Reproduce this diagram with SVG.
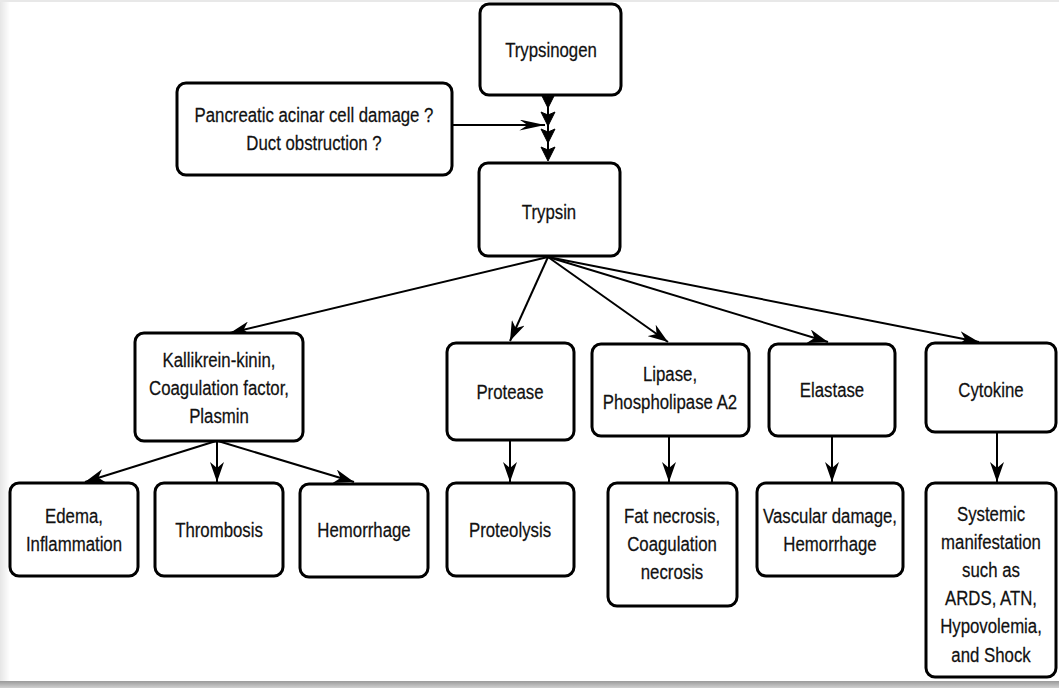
<svg xmlns="http://www.w3.org/2000/svg" width="1059" height="688" viewBox="0 0 1059 688">
<defs>
<linearGradient id="lg" x1="0" y1="0" x2="1" y2="0"><stop offset="0" stop-color="#e6e6e6"/><stop offset="1" stop-color="#ffffff"/></linearGradient>
<linearGradient id="bg" x1="0" y1="0" x2="0" y2="1"><stop offset="0" stop-color="#9a9a9a"/><stop offset="1" stop-color="#d0d0d0"/></linearGradient>
<marker id="ah" viewBox="0 0 20 14" refX="20" refY="7" markerWidth="20" markerHeight="14" markerUnits="userSpaceOnUse" orient="auto">
<path d="M0,0 L20,7 L0,14 L6,7 z" fill="#000"/>
</marker>
<marker id="ahl" viewBox="0 0 28 12" refX="28" refY="6" markerWidth="28" markerHeight="11" markerUnits="userSpaceOnUse" orient="auto">
<path d="M0,0 L28,6 L0,12 L9,6 z" fill="#000"/>
</marker>
<path id="chev" d="M-7,-14 L0,0 L7,-14 L0,-11 z" fill="#000" stroke="#000" stroke-width="1" stroke-linejoin="miter"/>
</defs>
<style>
.box{fill:#fff;stroke:#000;stroke-width:3;}
.t{font-family:"Liberation Sans",Arial,sans-serif;font-size:21px;fill:#111;text-anchor:middle;stroke:#111;stroke-width:0.25;}
.c{stroke:#000;stroke-width:2;fill:none;marker-end:url(#ah);}
</style>
<rect x="0" y="0" width="1059" height="688" fill="#fff"/>
<rect x="0" y="0" width="10" height="688" fill="url(#lg)"/>
<rect x="0" y="0" width="1059" height="2" fill="#e8e8e8"/>
<rect x="0" y="681" width="1059" height="7" fill="url(#bg)"/>

<g id="connectors">
<line x1="548" y1="95" x2="548" y2="158" stroke="#000" stroke-width="2"/>
<use href="#chev" x="548" y="108"/>
<use href="#chev" x="548" y="126"/>
<use href="#chev" x="548" y="143"/>
<use href="#chev" x="548" y="161"/>
<line x1="452" y1="125" x2="545" y2="125" stroke="#000" stroke-width="2" marker-end="url(#ahl)"/>
<line class="c" x1="548" y1="257" x2="230" y2="333"/>
<line class="c" x1="548" y1="257" x2="510" y2="341"/>
<line class="c" x1="548" y1="257" x2="668" y2="342"/>
<line class="c" x1="548" y1="257" x2="828" y2="342"/>
<line class="c" x1="548" y1="257" x2="979" y2="342"/>
<line class="c" x1="216" y1="441" x2="85" y2="482"/>
<line class="c" x1="217" y1="441" x2="217" y2="482"/>
<line class="c" x1="218" y1="441" x2="354" y2="482"/>
<line class="c" x1="510" y1="440" x2="510" y2="482"/>
<line class="c" x1="669" y1="437" x2="669" y2="482"/>
<line class="c" x1="832" y1="437" x2="832" y2="482"/>
<line class="c" x1="997" y1="433" x2="997" y2="482"/>
</g>

<g id="trypsinogen"><rect class="box" x="480" y="4" width="141" height="91" rx="9"/><text class="t" transform="translate(551 57) scale(0.8 1)">Trypsinogen</text></g>
<g id="cause"><rect class="box" x="177" y="83" width="275" height="92" rx="9"/><text class="t" transform="translate(314 122) scale(0.8 1)">Pancreatic acinar cell damage ?</text><text class="t" transform="translate(314 150) scale(0.8 1)">Duct obstruction ?</text></g>
<g id="trypsin"><rect class="box" x="479" y="163" width="141" height="93" rx="9"/><text class="t" transform="translate(549 219) scale(0.8 1)">Trypsin</text></g>

<g id="kallikrein"><rect class="box" x="135" y="333" width="168" height="108" rx="9"/><text class="t" transform="translate(219 367) scale(0.8 1)">Kallikrein-kinin,</text><text class="t" transform="translate(219 395) scale(0.8 1)">Coagulation factor,</text><text class="t" transform="translate(219 423) scale(0.8 1)">Plasmin</text></g>
<g id="protease"><rect class="box" x="447" y="343" width="127" height="97" rx="9"/><text class="t" transform="translate(510 399) scale(0.8 1)">Protease</text></g>
<g id="lipase"><rect class="box" x="592" y="344" width="157" height="92" rx="9"/><text class="t" transform="translate(670 381) scale(0.8 1)">Lipase,</text><text class="t" transform="translate(670 409) scale(0.8 1)">Phospholipase A2</text></g>
<g id="elastase"><rect class="box" x="769" y="344" width="126" height="92" rx="9"/><text class="t" transform="translate(832 397) scale(0.8 1)">Elastase</text></g>
<g id="cytokine"><rect class="box" x="926" y="343" width="130" height="89" rx="9"/><text class="t" transform="translate(991 397) scale(0.8 1)">Cytokine</text></g>

<g id="edema"><rect class="box" x="10" y="483" width="128" height="93" rx="9"/><text class="t" transform="translate(74 523) scale(0.8 1)">Edema,</text><text class="t" transform="translate(74 551) scale(0.8 1)">Inflammation</text></g>
<g id="thrombosis"><rect class="box" x="155" y="483" width="128" height="93" rx="9"/><text class="t" transform="translate(219 537) scale(0.8 1)">Thrombosis</text></g>
<g id="hemorrhage"><rect class="box" x="300" y="484" width="128" height="93" rx="9"/><text class="t" transform="translate(364 537) scale(0.8 1)">Hemorrhage</text></g>
<g id="proteolysis"><rect class="box" x="447" y="483" width="127" height="93" rx="9"/><text class="t" transform="translate(510 537) scale(0.8 1)">Proteolysis</text></g>
<g id="fatnecrosis"><rect class="box" x="608" y="483" width="129" height="123" rx="9"/><text class="t" transform="translate(672 523) scale(0.8 1)">Fat necrosis,</text><text class="t" transform="translate(672 551) scale(0.8 1)">Coagulation</text><text class="t" transform="translate(672 579) scale(0.8 1)">necrosis</text></g>
<g id="vascular"><rect class="box" x="757" y="483" width="146" height="93" rx="9"/><text class="t" transform="translate(830 523) scale(0.8 1)">Vascular damage,</text><text class="t" transform="translate(830 551) scale(0.8 1)">Hemorrhage</text></g>
<g id="systemic"><rect class="box" x="926" y="483" width="130" height="194" rx="9"/><text class="t" transform="translate(991 521) scale(0.8 1)">Systemic</text><text class="t" transform="translate(991 549) scale(0.8 1)">manifestation</text><text class="t" transform="translate(991 577) scale(0.8 1)">such as</text><text class="t" transform="translate(991 605) scale(0.8 1)">ARDS, ATN,</text><text class="t" transform="translate(991 633) scale(0.8 1)">Hypovolemia,</text><text class="t" transform="translate(991 662) scale(0.8 1)">and Shock</text></g>
</svg>
